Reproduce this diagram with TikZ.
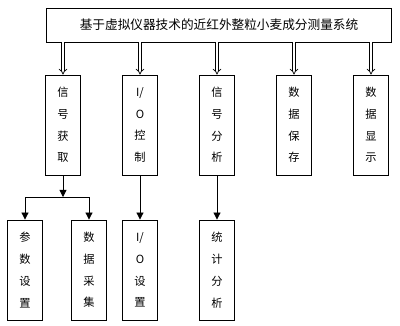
\documentclass[tikz,border=0pt]{standalone}
\usepackage{fontspec}
\setmainfont{Noto Sans CJK SC}
\usetikzlibrary{positioning,arrows.meta}

\begin{document}
\begin{tikzpicture}[
x=0.025cm,y=-0.025cm,
line width=0.6pt,
topbox/.style={draw,minimum width=8.62cm,minimum height=0.85cm,font=\fontsize{9}{11}\selectfont},
box/.style={draw,minimum width=0.86cm,minimum height=2.5cm,align=center,inner sep=0pt,font=\fontsize{8}{15.5}\selectfont},
dbl/.style={double,double distance=1.6pt,line width=0.5pt,-{Implies}},
>={Triangle[length=5pt,width=5pt]}
]
\useasboundingbox (0,0) rectangle (400,325);
\node[topbox] (sys) at (219,25) {基于虚拟仪器技术的近红外整粒小麦成分测量系统};

\node[box] (get) at (63,125) {信\\号\\获\\取};
\node[box] (ioc) at (140,125) {I/\\O\\控\\制};
\node[box] (ana) at (217,125) {信\\号\\分\\析};
\node[box] (sav) at (294,125) {数\\据\\保\\存};
\node[box] (dis) at (371,125) {数\\据\\显\\示};

\node[box] (par) at (25,270) {参\\数\\设\\置};
\node[box] (acq) at (89,270) {数\\据\\采\\集};
\node[box] (ios) at (140,270) {I/\\O\\设\\置};
\node[box] (sta) at (217,270) {统\\计\\分\\析};

\draw[dbl] (sys.south -| get) -- (get);
\draw[dbl] (sys.south -| ioc) -- (ioc);
\draw[dbl] (sys.south -| ana) -- (ana);
\draw[dbl] (sys.south -| sav) -- (sav);
\draw[dbl] (sys.south -| dis) -- (dis);

\coordinate (j) at (63,197);
\draw[->] (get) -- (j);
\draw (j -| par) -- (j -| acq);
\draw[->] (j -| par) -- (par);
\draw[->] (j -| acq) -- (acq);
\draw[->] (ioc) -- (ios);
\draw[->] (ana) -- (sta);
\end{tikzpicture}
\end{document}
